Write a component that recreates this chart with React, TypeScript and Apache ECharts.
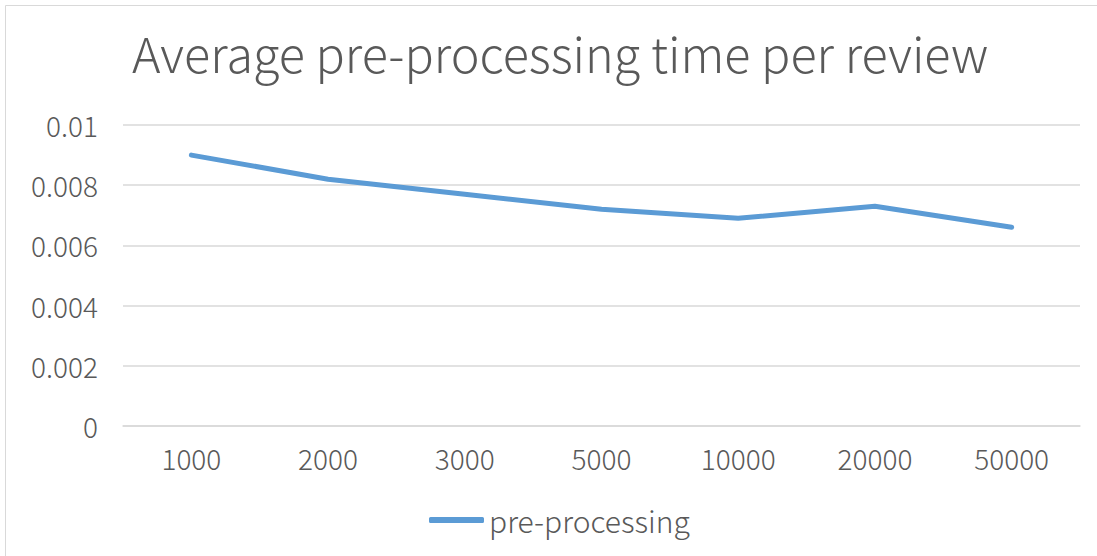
import React, { useEffect, useRef } from "react";
import * as echarts from "echarts";

const categories = ["1000", "2000", "3000", "5000", "10000", "20000", "50000"];
const preProcessing = [0.009, 0.0082, 0.0077, 0.0072, 0.0069, 0.0073, 0.0066];
const yTicks = { min: 0, max: 0.01, interval: 0.002 };

const FONT = "'Noto Sans CJK SC', 'Noto Sans', sans-serif";
const TEXT = "#595959";
const W = 300;

export default function App() {
  const ref = useRef<HTMLDivElement>(null);
  useEffect(() => {
    const chart = echarts.init(ref.current!, null, { renderer: "svg" });
    chart.setOption({
      animation: false,
      backgroundColor: "#ffffff",
      title: {
        text: "Average pre-processing time per review",
        left: 127,
        top: 23,
        textStyle: { fontFamily: FONT, fontSize: 48.5, fontWeight: W, color: TEXT },
      },
      graphic: [
        {
          type: "rect",
          shape: { x: 5.5, y: 5.5, width: 1100, height: 560 },
          style: { fill: "none", stroke: "#d9d9d9", lineWidth: 1 },
          silent: true,
        },
      ],
      grid: { left: 123, right: 17, top: 125, bottom: 130 },
      legend: {
        data: ["pre-processing"],
        left: 424,
        top: 500,
        icon: "roundRect",
        itemWidth: 55,
        itemHeight: 6,
        itemGap: 10,
        textStyle: { fontFamily: FONT, fontSize: 30, fontWeight: W, color: TEXT },
      },
      xAxis: {
        type: "category",
        data: categories,
        boundaryGap: true,
        axisLine: { show: true, lineStyle: { color: "#d9d9d9", width: 1.5 } },
        axisTick: { show: false },
        axisLabel: { fontFamily: FONT, fontSize: 28, fontWeight: W, color: TEXT, margin: 18 },
      },
      yAxis: {
        type: "value",
        min: yTicks.min,
        max: yTicks.max,
        interval: yTicks.interval,
        axisLine: { show: false },
        axisTick: { show: false },
        splitLine: { lineStyle: { color: "#d9d9d9", width: 1.5 } },
        axisLabel: {
          fontFamily: FONT,
          fontSize: 28,
          fontWeight: W,
          color: TEXT,
          margin: 25,
          formatter: (v: number) => (v === 0 ? "0" : String(parseFloat(v.toFixed(3)))),
        },
      },
      series: [
        {
          name: "pre-processing",
          type: "line",
          data: preProcessing,
          symbol: "none",
          lineStyle: { color: "#5B9BD5", width: 5, cap: "round", join: "round" },
          itemStyle: { color: "#5B9BD5" },
        },
      ],
    });
    return () => chart.dispose();
  }, []);
  return (
    <div
      ref={ref}
      style={{ position: "fixed", left: 0, top: 0, width: 1097, height: 556 }}
    />
  );
}
